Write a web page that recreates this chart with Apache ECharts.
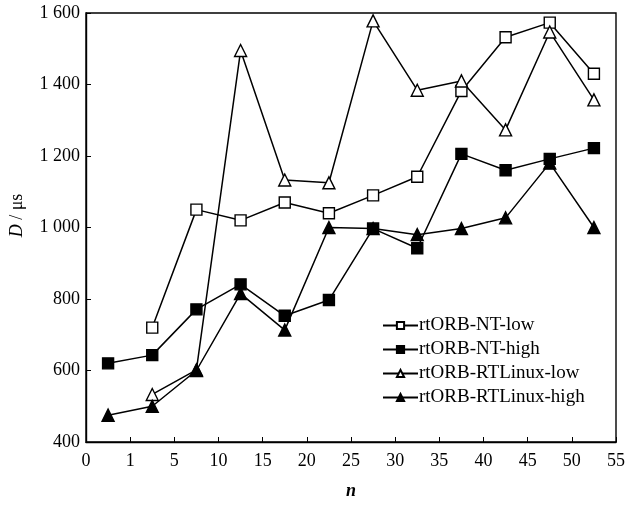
<!DOCTYPE html>
<html><head><meta charset="utf-8">
<script src="https://cdn.jsdelivr.net/npm/echarts@6/dist/echarts.min.js"></script>
<style>html,body{margin:0;padding:0;background:#fff}#c{width:628px;height:505px}</style>
</head><body><div id="c"></div>
<script>
const xTickLabels = ['0','1','5','10','15','20','25','30','35','40','45','50','55'];
const xPositions = [0.5,1.5,2.5,3.5,4.5,5.5,6.5,7.5,8.5,9.5,10.5,11.5];
const seriesNames = ['rtORB-NT-low','rtORB-NT-high','rtORB-RTLinux-low','rtORB-RTLinux-high'];
const ntLow = [null,720,1050,1020,1070,1040,1090,1142,1382,1532,1573,1430];
const ntHigh = [620,643,771,841,753,797,997,942,1206,1160,1192,1222];
const rtLow = [null,533,602,1495,1133,1125,1578,1384,1410,1273,1547,1357];
const rtHigh = [475,500,600,815,713,1000,997,980,997,1027,1180,1000];
const yTicks = {min:400,max:1600,interval:200};

const font = '"Liberation Serif","Times New Roman",serif';
function pts(vals){return vals.map((v,i)=>v==null?null:[xPositions[i],v]).filter(p=>p);}
function mk(name,vals,symbol,filled){
  return {name:name,type:'line',data:pts(vals),symbol:symbol,symbolSize:symbol==='rect'?11:12,
    showSymbol:true,
    lineStyle:{color:'#000',width:1.5},
    itemStyle:{color:filled?'#000':'#fff',borderColor:'#000',borderWidth:1.4},
    emphasis:{disabled:true},animation:false,z:filled?3:2};
}
const chart = echarts.init(document.getElementById('c'),null,{renderer:'canvas'});
chart.setOption({
  animation:false,
  backgroundColor:'#fff',
  grid:{left:86,right:12,top:13,bottom:62,show:true,borderColor:'#000',borderWidth:1.4,backgroundColor:'transparent'},
  xAxis:{type:'value',min:0,max:12,interval:1,
    name:'n',nameLocation:'middle',nameGap:40,
    nameTextStyle:{fontFamily:font,fontStyle:'italic',fontWeight:'bold',fontSize:18,color:'#000'},
    axisLine:{lineStyle:{color:'#000',width:1.4}},
    axisTick:{inside:true,length:5,lineStyle:{color:'#000'}},
    splitLine:{show:false},
    axisLabel:{fontFamily:font,fontSize:18,color:'#000',margin:10,formatter:v=>xTickLabels[v]}},
  yAxis:{type:'value',min:yTicks.min,max:yTicks.max,interval:yTicks.interval,
    name:'{i|D} / μs',nameLocation:'middle',nameGap:60,
    nameTextStyle:{fontFamily:font,fontSize:18,color:'#000',padding:[0,0,0,24],
      rich:{i:{fontFamily:font,fontStyle:'italic',fontSize:18,color:'#000'}}},
    axisLine:{lineStyle:{color:'#000',width:1.4}},
    axisTick:{inside:true,length:5,lineStyle:{color:'#000'}},
    splitLine:{show:false},
    axisLabel:{fontFamily:font,fontSize:18,color:'#000',margin:6,
      formatter:v=>String(v).replace(/\B(?=(\d{3})+(?!\d))/g,' ')}},
  legend:{orient:'vertical',left:377,top:311,itemWidth:35,itemHeight:9,itemGap:5,
    textStyle:{fontFamily:font,fontSize:19,color:'#000',padding:[0,0,0,-4]},
    data:seriesNames},
  series:[
    mk(seriesNames[0],ntLow,'rect',false),
    mk(seriesNames[1],ntHigh,'rect',true),
    mk(seriesNames[2],rtLow,'triangle',false),
    mk(seriesNames[3],rtHigh,'triangle',true)
  ]
});
</script></body></html>
